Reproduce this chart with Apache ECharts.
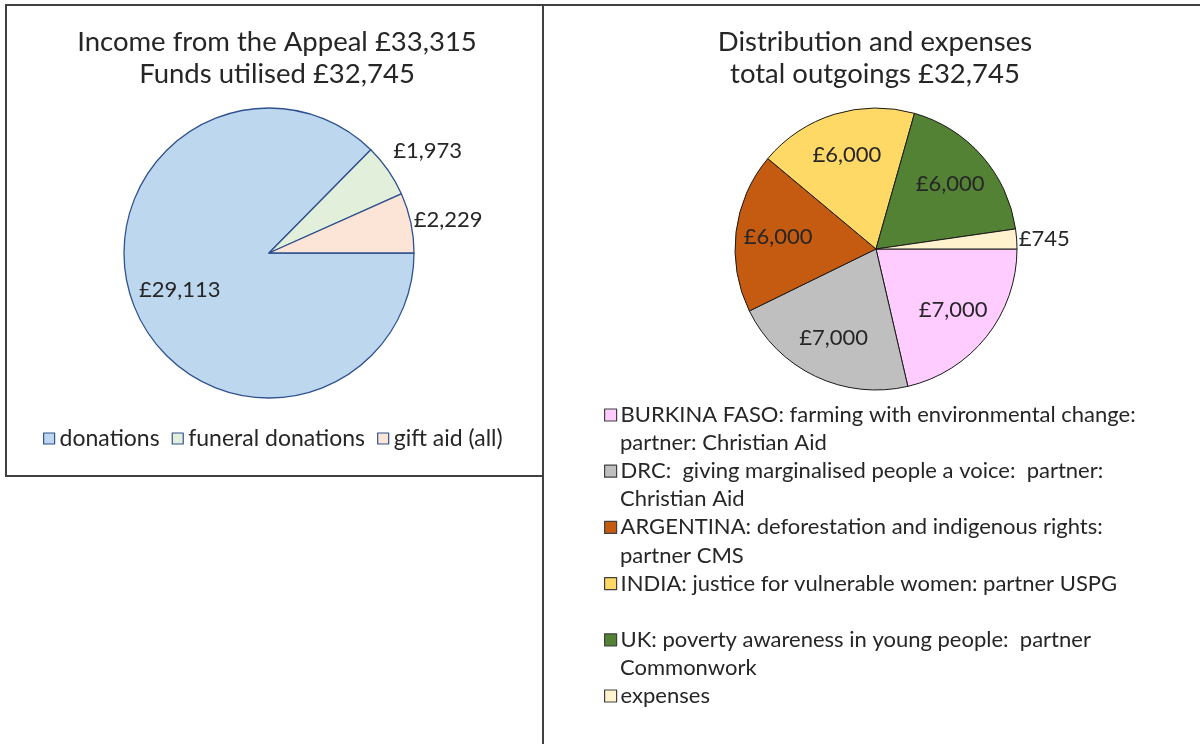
<!DOCTYPE html>
<html>
<head>
<meta charset="utf-8">
<script src="https://cdn.jsdelivr.net/npm/echarts@6/dist/echarts.min.js"></script>
<style>
  html, body { margin: 0; padding: 0; background: #fff; }
  #chart { width: 1200px; height: 744px; }
</style>
</head>
<body>
<div id="chart"></div>
<script>
// income pie
const incomeNames = ['donations', 'funeral donations', 'gift aid (all)'];
const incomeValues = [29113, 1973, 2229];
const incomeColors = ['#bdd7ee', '#e2efda', '#fce4d6'];

// outgoings pie (legend text split into the lines shown)
const outLines = [
  ['BURKINA FASO: farming with environmental change:', 'partner: Christian Aid'],
  ['DRC:  giving marginalised people a voice:  partner:', 'Christian Aid'],
  ['ARGENTINA: deforestation and indigenous rights:', 'partner CMS'],
  ['INDIA: justice for vulnerable women: partner USPG', ''],
  ['UK: poverty awareness in young people:  partner', 'Commonwork'],
  ['expenses']
];
const outValues = [7000, 7000, 6000, 6000, 6000, 745];
const outColors = ['#ffccff', '#bfbfbf', '#c55a11', '#ffd966', '#548235', '#fff2cc'];
const outNames = outLines.map(l => l.join('\n'));

const FONT = 'Lato';
const TEXT = '#262626';
const LEG_SIZE = 22;
const fmtMoney = v => '£' + v.toLocaleString('en-GB');

const leftCenter = [269, 253];
const rightCenter = [876, 249];

const chart = echarts.init(document.getElementById('chart'));

// push inside labels a bit further out, like the original
function pushOut(center, k) {
  return function (params) {
    if (!params.labelRect) return {};
    const r = params.labelRect;
    const lx = r.x + r.width / 2, ly = r.y + r.height / 2;
    return { x: center[0] + (lx - center[0]) * k, y: center[1] + (ly - center[1]) * k };
  };
}

const lineH = 28.1;
const legendY0 = 415;
const rightLegends = [];
const extraLines = [];
let row = 0;
outLines.forEach((lines, i) => {
  rightLegends.push({
    data: [outNames[i]],
    left: 604,
    top: legendY0 + row * lineH - LEG_SIZE / 2,
    padding: 0,
    icon: 'rect',
    itemWidth: 12,
    itemHeight: 12,
    itemStyle: { borderColor: '#404040', borderWidth: 1.2 },
    selectedMode: false,
    formatter: name => name.split('\n')[0],
    textStyle: { fontFamily: FONT, fontSize: LEG_SIZE, color: TEXT, padding: [0, 0, 0, -1] }
  });
  for (let j = 1; j < lines.length; j++) {
    extraLines.push({
      type: 'text',
      x: 620,
      y: legendY0 + (row + j) * lineH,
      style: { text: lines[j], font: LEG_SIZE + 'px ' + FONT, fill: TEXT, verticalAlign: 'middle' }
    });
  }
  row += lines.length;
});

const option = {
  backgroundColor: '#fff',
  title: [
    {
      text: 'Income from the Appeal £33,315\nFunds utilised £32,745',
      left: 272, top: 21, textAlign: 'center',
      textStyle: { fontFamily: FONT, fontSize: 27.5, fontWeight: 'normal', color: TEXT, lineHeight: 32 }
    },
    {
      text: 'Distribution and expenses\ntotal outgoings £32,745',
      left: 870, top: 21, textAlign: 'center',
      textStyle: { fontFamily: FONT, fontSize: 27.5, fontWeight: 'normal', color: TEXT, lineHeight: 32 }
    }
  ],
  legend: [
    {
      data: incomeNames,
      left: 43, top: 438 - LEG_SIZE / 2,
      padding: 0,
      icon: 'rect',
      itemWidth: 11, itemHeight: 11, itemGap: 12,
      itemStyle: { borderColor: '#2f528f', borderWidth: 1.2 },
      selectedMode: false,
      textStyle: { fontFamily: FONT, fontSize: 23, color: TEXT, padding: [0, 0, 0, 0] }
    }
  ].concat(rightLegends),
  graphic: [
    { type: 'rect', shape: { x: 6, y: 5, width: 537, height: 471 }, style: { fill: 'none', stroke: '#404040', lineWidth: 2 } },
    { type: 'line', shape: { x1: 543, y1: 5, x2: 1200, y2: 5 }, style: { stroke: '#404040', lineWidth: 2 } },
    { type: 'line', shape: { x1: 543, y1: 476, x2: 543, y2: 744 }, style: { stroke: '#404040', lineWidth: 2 } }
  ].concat(extraLines),
  series: [
    {
      type: 'pie',
      center: leftCenter,
      radius: 145,
      startAngle: 0,
      clockwise: true,
      avoidLabelOverlap: false,
      itemStyle: { borderColor: '#2f528f', borderWidth: 1.3 },
      label: { fontFamily: FONT, fontSize: LEG_SIZE, color: TEXT, formatter: p => fmtMoney(p.value), distanceToLabelLine: 3 },
      labelLine: { show: false, length: 0, length2: 0 },
      labelLayout: function (params) {
        if (params.dataIndex === 0) return pushOut(leftCenter, 1.28)(params);
        return {};
      },
      emphasis: { disabled: true },
      data: incomeNames.map((n, i) => ({
        name: n,
        value: incomeValues[i],
        itemStyle: { color: incomeColors[i] },
        label: i === 0 ? { position: 'inside' } : { position: 'outside', offset: i === 1 ? [2, -19] : [0, -3] }
      }))
    },
    {
      type: 'pie',
      center: rightCenter,
      radius: 141,
      startAngle: 0,
      clockwise: true,
      avoidLabelOverlap: false,
      itemStyle: { borderColor: '#1a1a1a', borderWidth: 1 },
      label: { fontFamily: FONT, fontSize: LEG_SIZE, color: TEXT, formatter: p => fmtMoney(p.value), distanceToLabelLine: 2 },
      labelLine: { show: false, length: 0, length2: 0 },
      labelLayout: function (params) {
        if (params.dataIndex < 5) return pushOut(rightCenter, 1.34)(params);
        return {};
      },
      emphasis: { disabled: true },
      data: outNames.map((n, i) => ({
        name: n,
        value: outValues[i],
        itemStyle: { color: outColors[i] },
        label: { position: i < 5 ? 'inside' : 'outside' }
      }))
    }
  ]
};

chart.setOption(option);
</script>
</body>
</html>
